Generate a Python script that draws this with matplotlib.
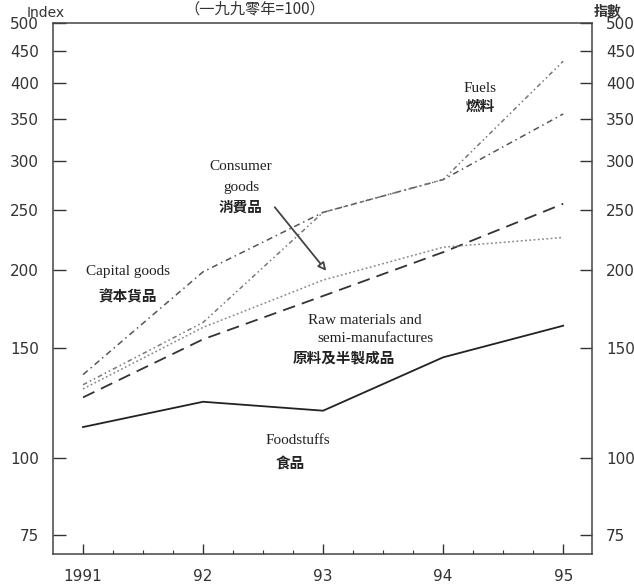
# Import price indices by end-use category, 1991-95 (1990=100)

import numpy as np
import matplotlib
matplotlib.use('Agg')
import matplotlib.pyplot as plt
from matplotlib.ticker import FixedLocator, NullFormatter, NullLocator

# Data
years = [1991, 1992, 1993, 1994, 1995]
year_labels = ['1991', '92', '93', '94', '95']
foodstuffs = [112, 123, 119, 145, 163]
raw_materials = [125, 155, 182, 214, 256]
consumer_goods = [129, 162, 193, 218, 226]
capital_goods = [136, 199, 248, 280, 357]
fuels = [131, 165, 248, 280, 434]
y_ticks = [75, 100, 150, 200, 250, 300, 350, 400, 450, 500]

tick_font = ['Liberation Sans Narrow', 'DejaVu Sans']
serif_font = ['Liberation Serif', 'Noto Sans CJK TC']
cjk_font = ['Noto Sans CJK TC', 'DejaVu Sans']

W, H = 634, 587
fig = plt.figure(figsize=(W / 100, H / 100), dpi=100)
ax = fig.add_axes([53 / W, 1 - 554 / H, (592 - 53) / W, (554 - 23) / H])

# Lines
ax.plot(years, foodstuffs, color='#222222', lw=1.3, ls='-')
ax.plot(years, raw_materials, color='#333333', lw=1.3, dashes=(7, 4))
ax.plot(years, consumer_goods, color='#888888', lw=1.1, dashes=(1.2, 1.6))
ax.plot(years, capital_goods, color='#555555', lw=1.1, dashes=(4, 2.5, 1, 2.5))
ax.plot(years, fuels, color='#777777', lw=1.1, dashes=(3, 2, 1, 2, 1, 2))

# Axes
ax.set_yscale('log')
ax.set_ylim(70, 500)
ax.set_xlim(1990.75, 1995.24)
ax.yaxis.set_major_locator(FixedLocator(y_ticks))
ax.yaxis.set_minor_locator(NullLocator())
ax.yaxis.set_minor_formatter(NullFormatter())
ax.set_yticks(y_ticks)
ax.set_yticklabels([str(v) for v in y_ticks])
ax.set_xticks(years)
ax.set_xticklabels(year_labels)
ax.set_xticks(np.arange(1991, 1995.01, 0.25), minor=True)

ax.tick_params(axis='y', which='major', direction='in', length=9, width=1,
               left=True, right=True, labelleft=True, labelright=True,
               labelsize=11, pad=10, colors='#333333')
ax.tick_params(axis='x', which='major', direction='in', length=7, width=1,
               labelsize=11, pad=11, colors='#333333')
ax.tick_params(axis='x', which='minor', direction='in', length=3, width=0.8,
               colors='#333333')
for lab in ax.get_xticklabels() + ax.get_yticklabels():
    lab.set_family(tick_font)
for lab in ax.yaxis.get_ticklabels(which='major'):
    lab.set_family(tick_font)

for sp in ax.spines.values():
    sp.set_color('#444444')
    sp.set_linewidth(1.1)

# Titles around the frame
fig.text(46 / W, 1 - 13 / H, 'Index', ha='center', va='center', fontsize=10,
         family=tick_font, color='#333333')
fig.text(255 / W, 1 - 9 / H, '（一九九零年=100）', ha='center', va='center',
         fontsize=11, family=cjk_font, color='#333333')
fig.text(608 / W, 1 - 12 / H, '指數', ha='center', va='center', fontsize=10,
         family=cjk_font, weight='bold', color='#333333')

# Series labels
def label(x, y, s, fam, size=11, weight='normal'):
    fig.text(x / W, 1 - y / H, s, ha='center', va='center', fontsize=size,
             family=fam, weight=weight, color='#222222')

label(480, 88, 'Fuels', serif_font)
label(480, 106, '燃料', cjk_font, 10.5, 'bold')
label(241, 167, 'Consumer', serif_font)
label(241, 187, 'goods', serif_font)
label(241, 207, '消費品', cjk_font, 10.5, 'bold')
label(128, 272, 'Capital goods', serif_font)
label(128, 296, '資本貨品', cjk_font, 10.5, 'bold')
label(365, 321, 'Raw materials and', serif_font)
label(375, 339, 'semi-manufactures', serif_font)
label(344, 357, '原料及半製成品', cjk_font, 10.5, 'bold')
label(298, 441, 'Foodstuffs', serif_font)
label(290, 463, '食品', cjk_font, 10.5, 'bold')

# Arrow pointing at the consumer goods line
ax.annotate('', xy=(328 / W, 1 - 273 / H), xycoords='figure fraction',
            xytext=(273 / W, 1 - 205 / H), textcoords='figure fraction',
            arrowprops=dict(arrowstyle='-|>', color='#444444', lw=1.3,
                            mutation_scale=12, fc='white'))

fig.savefig('out.png', dpi=100)
